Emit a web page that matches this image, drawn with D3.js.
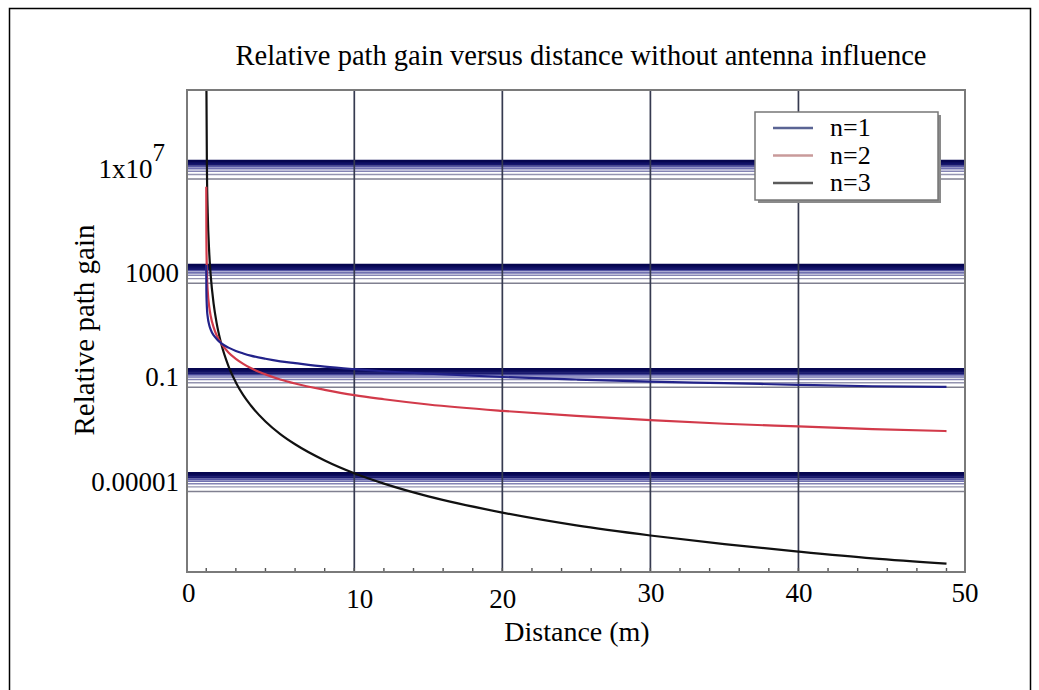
<!DOCTYPE html>
<html>
<head>
<meta charset="utf-8">
<script src="https://cdn.jsdelivr.net/npm/d3@7"></script>
<style>
  html, body { margin: 0; padding: 0; background: #fff; }
  svg { display: block; }
  text { font-family: "Liberation Serif", "DejaVu Serif", serif; fill: #000; }
</style>
</head>
<body>
<svg id="chart" width="1039" height="690"></svg>
<script>
// Distance samples (m)
const distance = [0.001, 0.01, 0.05, 0.1, 0.2, 0.3, 0.5, 0.7, 1, 1.5, 2, 2.5, 3, 4, 5, 6, 8, 10, 12, 15, 20, 25, 30, 35, 40, 45, 50];

// Relative path gain for each exponent
const gainN1 = [1000, 100, 20, 10, 5, 3.3, 2, 1.45, 1, 0.67, 0.5, 0.4, 0.33, 0.25, 0.2, 0.17, 0.125, 0.1, 0.083, 0.067, 0.05, 0.04, 0.033, 0.029, 0.025, 0.022, 0.021];
const gainN2 = [1e6, 1e4, 400, 100, 25, 11, 4, 2, 1, 0.44, 0.25, 0.16, 0.11, 0.063, 0.04, 0.028, 0.016, 0.01, 0.007, 0.0044, 0.0025, 0.0016, 0.0011, 0.0008, 0.00063, 0.0005, 0.00042];
const gainN3 = [1e15, 1e10, 3.2e6, 1e5, 3100, 410, 32, 6, 1, 0.13, 0.031, 0.01, 0.0041, 0.00098, 0.00032, 0.00013, 3.1e-5, 1e-5, 4e-6, 1.3e-6, 3.1e-7, 1e-7, 4.1e-8, 1.9e-8, 9.8e-9, 5.4e-9, 3.4e-9];

const seriesNames = ["n=1", "n=2", "n=3"];
const seriesColors = ["#22228a", "#d23a4a", "#111111"];
const legendColors = ["#5a6494", "#c99a9a", "#5a5a5a"];

// Axis ticks
const xTicks = [0, 10, 20, 30, 40, 50];
const xGridTicks = [10, 20, 30, 40];
const yTicks = [1e-5, 0.1, 1000, 1e7];
const yTickLabels = ["0.00001", "0.1", "1000", "1x10"];

const svg = d3.select("#chart");

// Outer frame
svg.append("path")
  .attr("d", "M9.5,700 V8.5 H1030.5 V700")
  .attr("fill", "none").attr("stroke", "#000").attr("stroke-width", 1.5);

const plot = { left: 187, right: 965, top: 90, bottom: 572 };

const x = d3.scaleLinear().domain([-1.3, 51.25]).range([plot.left, plot.right]);
const y = d3.scaleLog().domain([Math.pow(10, -8.79), Math.pow(10, 9.72)]).range([plot.bottom, plot.top]);

svg.append("defs").append("clipPath").attr("id", "plotClip")
  .append("rect")
  .attr("x", plot.left).attr("y", plot.top)
  .attr("width", plot.right - plot.left).attr("height", plot.bottom - plot.top);

const grid = svg.append("g").attr("clip-path", "url(#plotClip)");

// Horizontal grid bands: a line at each labelled value plus the m·10^(k-1) ladder below it
const bandStyles = [
  { m: 2, color: "#808090", w: 1.5 },
  { m: 3, color: "#9494b0", w: 1.4 },
  { m: 4, color: "#8484b4", w: 1.5 },
  { m: 5, color: "#7070b0", w: 1.6 },
  { m: 6, color: "#5656a4", w: 1.7 },
  { m: 7, color: "#1a1a70", w: 2 },
  { m: 8, color: "#101066", w: 2 },
  { m: 9, color: "#0c0c5e", w: 2 },
  { m: 10, color: "#060650", w: 2.4 }
];
yTicks.forEach(t => {
  bandStyles.forEach(s => {
    const v = t * s.m / 10;
    grid.append("line")
      .attr("x1", plot.left).attr("x2", plot.right)
      .attr("y1", y(v)).attr("y2", y(v))
      .attr("stroke", s.color).attr("stroke-width", s.w);
  });
});

// Vertical grid lines
grid.selectAll("line.vgrid").data(xGridTicks).enter().append("line")
  .attr("class", "vgrid")
  .attr("x1", d => x(d)).attr("x2", d => x(d))
  .attr("y1", plot.top).attr("y2", plot.bottom)
  .attr("stroke", "#363a50").attr("stroke-width", 1.7);

// Minor ticks along the bottom edge
const minorTicks = d3.range(0, 51, 2);
svg.selectAll("line.mtick").data(minorTicks).enter().append("line")
  .attr("class", "mtick")
  .attr("x1", d => x(d)).attr("x2", d => x(d))
  .attr("y1", plot.bottom).attr("y2", plot.bottom - 4)
  .attr("stroke", "#555").attr("stroke-width", 1.4);

// Curves
const line = d3.line()
  .x((d, i) => x(distance[i]))
  .y(d => y(Math.min(d, 1e12)))
  .curve(d3.curveMonotoneX);

const curves = svg.append("g").attr("clip-path", "url(#plotClip)");
[gainN3, gainN2, gainN1].forEach((vals, k) => {
  const idx = 2 - k;
  curves.append("path")
    .datum(vals)
    .attr("d", line)
    .attr("fill", "none")
    .attr("stroke", seriesColors[idx])
    .attr("stroke-width", 2.2)
    .attr("stroke-linejoin", "round");
});

// Plot frame
svg.append("rect")
  .attr("x", plot.left).attr("y", plot.top)
  .attr("width", plot.right - plot.left).attr("height", plot.bottom - plot.top)
  .attr("fill", "none").attr("stroke", "#7a7a7a").attr("stroke-width", 2);

// X axis labels
const xAxis = d3.axisBottom(x).tickValues(xTicks).tickSize(0).tickPadding(0);
const gx = svg.append("g").attr("transform", `translate(0,${plot.bottom})`).call(xAxis);
gx.select(".domain").remove();
gx.selectAll("text")
  .attr("font-size", 27)
  .attr("font-family", "'Liberation Serif', serif")
  .attr("fill", "#000")
  .attr("y", 0)
  .attr("dy", d => (d === 10 || d === 20) ? 36 : 30)
  .attr("dx", d => d === 0 ? -18 : d === 50 ? 18 : (d === 10 ? 5 : 0));

// Y axis labels
const yAxis = d3.axisLeft(y).tickValues(yTicks).tickSize(0).tickPadding(0)
  .tickFormat((d, i) => yTickLabels[i]);
const gy = svg.append("g").attr("transform", `translate(${plot.left - 8},0)`).call(yAxis);
gy.select(".domain").remove();
gy.selectAll("text")
  .attr("font-size", 27)
  .attr("font-family", "'Liberation Serif', serif")
  .attr("fill", "#000")
  .attr("dy", "0.62em");
// exponent on the 1x10^7 label
gy.selectAll(".tick").filter(d => d === 1e7).select("text")
  .attr("dx", -14)
  .append("tspan").attr("dy", -17).attr("font-size", 25).text("7");

// Title and axis titles
svg.append("text")
  .attr("x", 581).attr("y", 65)
  .attr("text-anchor", "middle").attr("font-size", 28.5)
  .text("Relative path gain versus distance without antenna influence");

svg.append("text")
  .attr("x", 577).attr("y", 641)
  .attr("text-anchor", "middle").attr("font-size", 28)
  .text("Distance (m)");

svg.append("text")
  .attr("transform", "translate(94,330) rotate(-90)")
  .attr("text-anchor", "middle").attr("font-size", 29)
  .text("Relative path gain");

// Legend
const lg = svg.append("g").attr("transform", "translate(755,112)");
lg.append("rect").attr("x", 3).attr("y", 3).attr("width", 183).attr("height", 88).attr("fill", "#8a8a8a");
lg.append("rect").attr("x", 0).attr("y", 0).attr("width", 183).attr("height", 88)
  .attr("fill", "#fff").attr("stroke", "#777").attr("stroke-width", 1.5);
seriesNames.forEach((name, i) => {
  const yy = 16 + i * 27.5;
  lg.append("line").attr("x1", 18).attr("x2", 58).attr("y1", yy).attr("y2", yy)
    .attr("stroke", legendColors[i]).attr("stroke-width", 2.5);
  lg.append("text").attr("x", 75).attr("y", yy + 8).attr("font-size", 26).text(name);
});
</script>
</body>
</html>
